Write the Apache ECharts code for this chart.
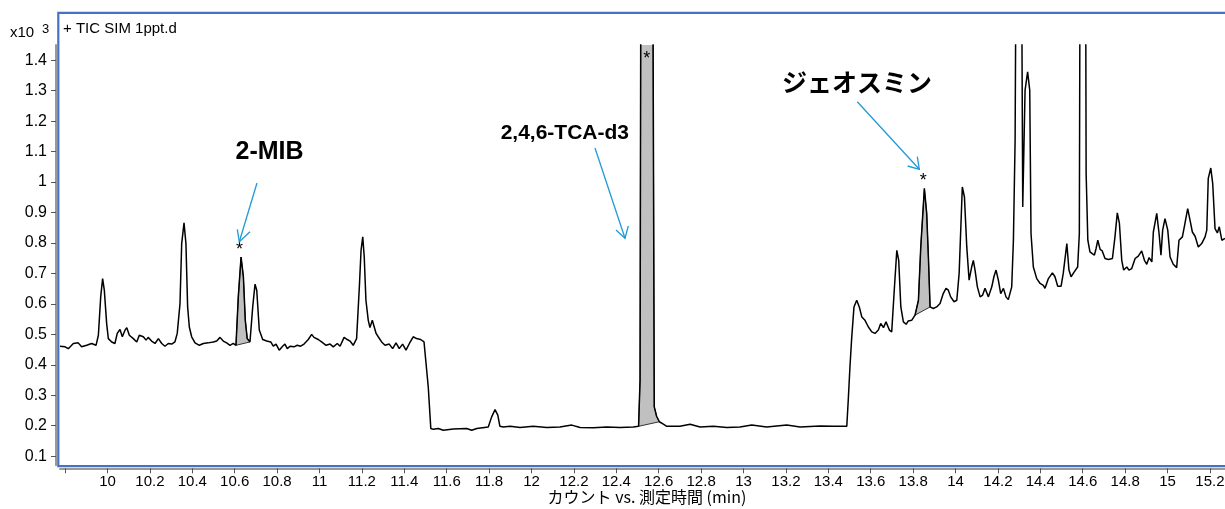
<!DOCTYPE html>
<html>
<head>
<meta charset="utf-8">
<title>TIC SIM 1ppt.d</title>
<script src="https://cdn.jsdelivr.net/npm/echarts@6/dist/echarts.min.js"></script>
<style>
    html, body { margin: 0; padding: 0; background: #fff; }
    #chart { width: 1225px; height: 509px; }
</style>
</head>
<body>
<div id="chart"></div>
<script>
// 測定時間 (min)
const retentionTime = [
    9.776, 9.800, 9.815, 9.839, 9.862, 9.878, 9.902, 9.925, 9.946, 9.957,
    9.968, 9.977, 9.985, 9.996, 10.004, 10.020, 10.035, 10.046, 10.059, 10.070,
    10.083, 10.091, 10.103, 10.122, 10.138, 10.150, 10.169, 10.182, 10.192, 10.208,
    10.224, 10.240, 10.256, 10.271, 10.287, 10.303, 10.318, 10.329, 10.342, 10.350,
    10.361, 10.370, 10.378, 10.386, 10.397, 10.413, 10.433, 10.452, 10.475, 10.499,
    10.515, 10.531, 10.546, 10.562, 10.578, 10.593, 10.606, 10.617, 10.630, 10.641,
    10.650, 10.659, 10.672, 10.685, 10.696, 10.704, 10.716, 10.732, 10.751, 10.770,
    10.782, 10.795, 10.810, 10.826, 10.837, 10.848, 10.861, 10.880, 10.895, 10.911,
    10.927, 10.947, 10.963, 10.974, 10.994, 11.010, 11.031, 11.050, 11.065, 11.084,
    11.097, 11.116, 11.131, 11.144, 11.159, 11.175, 11.188, 11.196, 11.204, 11.211,
    11.219, 11.230, 11.238, 11.249, 11.258, 11.267, 11.277, 11.293, 11.309, 11.329,
    11.345, 11.361, 11.376, 11.392, 11.408, 11.424, 11.442, 11.458, 11.477, 11.493,
    11.501, 11.513, 11.525, 11.537, 11.560, 11.584, 11.631, 11.694, 11.718, 11.742,
    11.796, 11.812, 11.828, 11.841, 11.851, 11.867, 11.899, 11.946, 12.008, 12.072,
    12.134, 12.190, 12.229, 12.292, 12.355, 12.417, 12.480, 12.505, 12.512, 12.517,
    12.545, 12.571, 12.579, 12.590, 12.603, 12.622, 12.638, 12.700, 12.748, 12.795,
    12.858, 12.921, 12.983, 13.039, 13.109, 13.204, 13.267, 13.361, 13.424, 13.487,
    13.494, 13.502, 13.510, 13.521, 13.534, 13.546, 13.558, 13.573, 13.589, 13.605,
    13.620, 13.636, 13.647, 13.660, 13.672, 13.688, 13.699, 13.710, 13.723, 13.732,
    13.742, 13.754, 13.767, 13.777, 13.793, 13.809, 13.825, 13.836, 13.853, 13.864,
    13.872, 13.880, 13.895, 13.911, 13.927, 13.942, 13.955, 13.966, 13.977, 13.993,
    14.006, 14.017, 14.032, 14.042, 14.053, 14.064, 14.076, 14.084, 14.092, 14.103,
    14.116, 14.128, 14.139, 14.155, 14.171, 14.181, 14.191, 14.202, 14.213, 14.226,
    14.238, 14.249, 14.265, 14.273, 14.281, 14.290, 14.300, 14.307, 14.317, 14.328,
    14.340, 14.350, 14.356, 14.367, 14.383, 14.399, 14.414, 14.422, 14.438, 14.457,
    14.469, 14.482, 14.498, 14.508, 14.525, 14.535, 14.545, 14.560, 14.576, 14.584,
    14.590, 14.601, 14.611, 14.616, 14.624, 14.634, 14.645, 14.655, 14.663, 14.671,
    14.682, 14.692, 14.705, 14.721, 14.740, 14.752, 14.763, 14.773, 14.784, 14.793,
    14.808, 14.818, 14.831, 14.847, 14.862, 14.878, 14.891, 14.902, 14.913, 14.926,
    14.933, 14.949, 14.960, 14.969, 14.977, 14.988, 15.001, 15.012, 15.027, 15.043,
    15.054, 15.070, 15.079, 15.095, 15.106, 15.117, 15.130, 15.145, 15.161, 15.177,
    15.185, 15.192, 15.204, 15.213, 15.224, 15.235, 15.244, 15.256, 15.271
];

// カウント (x10^3)
const counts = [
    0.461, 0.459, 0.453, 0.470, 0.472, 0.459, 0.464, 0.470, 0.464, 0.497,
    0.623, 0.683, 0.645, 0.536, 0.486, 0.475, 0.470, 0.503, 0.516, 0.492,
    0.514, 0.522, 0.497, 0.486, 0.475, 0.497, 0.492, 0.481, 0.490, 0.478,
    0.470, 0.486, 0.470, 0.461, 0.470, 0.468, 0.475, 0.503, 0.601, 0.798,
    0.866, 0.798, 0.590, 0.524, 0.492, 0.472, 0.464, 0.470, 0.472, 0.475,
    0.478, 0.490, 0.478, 0.472, 0.464, 0.470, 0.464, 0.623, 0.754, 0.689,
    0.546, 0.486, 0.475, 0.590, 0.665, 0.645, 0.514, 0.483, 0.478, 0.475,
    0.461, 0.468, 0.448, 0.461, 0.468, 0.453, 0.461, 0.459, 0.464, 0.461,
    0.468, 0.483, 0.500, 0.490, 0.483, 0.475, 0.464, 0.468, 0.459, 0.470,
    0.461, 0.490, 0.483, 0.478, 0.464, 0.486, 0.656, 0.776, 0.820, 0.754,
    0.612, 0.546, 0.522, 0.546, 0.544, 0.503, 0.492, 0.475, 0.464, 0.468,
    0.453, 0.472, 0.453, 0.468, 0.448, 0.470, 0.492, 0.486, 0.483, 0.475,
    0.470, 0.327, 0.191, 0.188, 0.191, 0.185, 0.189, 0.191, 0.185, 0.191,
    0.196, 0.229, 0.253, 0.235, 0.198, 0.196, 0.198, 0.194, 0.198, 0.194,
    0.196, 0.202, 0.194, 0.193, 0.196, 0.194, 0.196, 0.198, 0.349, 2.2,
    3.5, 2.0, 0.262, 0.231, 0.213, 0.205, 0.198, 0.198, 0.205, 0.196,
    0.198, 0.194, 0.196, 0.202, 0.196, 0.202, 0.196, 0.199, 0.198, 0.198,
    0.284, 0.393, 0.486, 0.590, 0.612, 0.590, 0.557, 0.546, 0.524, 0.508,
    0.503, 0.514, 0.536, 0.522, 0.541, 0.514, 0.508, 0.634, 0.776, 0.743,
    0.590, 0.541, 0.533, 0.544, 0.546, 0.563, 0.612, 0.787, 0.979, 0.897,
    0.754, 0.590, 0.585, 0.590, 0.601, 0.634, 0.651, 0.645, 0.623, 0.607,
    0.612, 0.700, 0.984, 0.951, 0.787, 0.678, 0.721, 0.743, 0.711, 0.656,
    0.623, 0.629, 0.651, 0.623, 0.656, 0.689, 0.711, 0.678, 0.634, 0.651,
    0.623, 0.614, 0.656, 0.809, 1.137, 2.4, 2.8, 2.4, 0.918, 1.302,
    1.362, 1.302, 0.831, 0.721, 0.683, 0.667, 0.661, 0.651, 0.683, 0.702,
    0.689, 0.658, 0.658, 0.700, 0.798, 0.711, 0.689, 0.705, 0.721, 0.831,
    2.5, 3.0, 2.5, 1.028, 0.809, 0.771, 0.765, 0.760, 0.782, 0.809,
    0.779, 0.774, 0.749, 0.746, 0.749, 0.820, 0.899, 0.864, 0.743, 0.711,
    0.721, 0.711, 0.716, 0.749, 0.757, 0.774, 0.743, 0.730, 0.752, 0.738,
    0.836, 0.897, 0.831, 0.760, 0.842, 0.880, 0.842, 0.754, 0.730, 0.719,
    0.809, 0.820, 0.853, 0.913, 0.875, 0.836, 0.822, 0.787, 0.798, 0.820,
    0.842, 1.012, 1.046, 0.995, 0.847, 0.833, 0.853, 0.809, 0.815
];

// 積分されたピークの範囲 (2-MIB, 2,4,6-TCA-d3, ジェオスミン)
const peakStart = [10.606, 12.505, 13.809];
const peakEnd = [10.672, 12.603, 13.880];

// 目盛り
const xTicks = [9.8, 10, 10.2, 10.4, 10.6, 10.8, 11, 11.2, 11.4, 11.6, 11.8, 12, 12.2, 12.4,
    12.6, 12.8, 13, 13.2, 13.4, 13.6, 13.8, 14, 14.2, 14.4, 14.6, 14.8, 15, 15.2];
const xLabels = xTicks.slice(1);
const yTicks = [0.1, 0.2, 0.3, 0.4, 0.5, 0.6, 0.7, 0.8, 0.9, 1, 1.1, 1.2, 1.3, 1.4];

const chart = echarts.init(document.getElementById('chart'));

// ピーク面積 (灰色) を描く
function renderPeakArea(params, api) {
    const start = api.value(0);
    const end = api.value(2);
    const points = [];
    retentionTime.forEach((t, i) => {
        if (t >= start - 1e-9 && t <= end + 1e-9) {
            points.push(api.coord([t, counts[i]]));
        }
    });
    return {
        type: 'polygon',
        shape: { points: points },
        style: { fill: '#c0c0c0', stroke: '#333', lineWidth: 1 }
    };
}

const arrowColor = '#1f9ad6';
const latin = '"Liberation Sans", Arial, sans-serif';
const cjk = '"Noto Sans CJK JP", sans-serif';

function arrow(from, tip, armA, armB) {
    return [
        { type: 'polyline', silent: true, z: 20, shape: { points: [from, tip] },
          style: { stroke: arrowColor, lineWidth: 1.3, fill: null } },
        { type: 'polyline', silent: true, z: 20, shape: { points: [armA, tip, armB] },
          style: { stroke: arrowColor, lineWidth: 1.3, fill: null } }
    ];
}

function label(text, x, y, font, align) {
    return {
        type: 'text', silent: true, z: 20, x: x, y: y,
        style: { text: text, font: font, fill: '#000', textAlign: align || 'left', textVerticalAlign: 'middle' }
    };
}

const option = {
    animation: false,
    grid: { left: 60, top: 45, width: 1165, height: 420.3, outerBoundsMode: 'none', containLabel: false },
    xAxis: {
        type: 'value',
        min: 9.776,
        max: 15.271,
        offset: 3,
        axisLine: { show: true, onZero: false, lineStyle: { color: '#999', width: 2 } },
        axisTick: { show: true, customValues: xTicks, length: 5, lineStyle: { color: '#555', width: 1 } },
        axisLabel: {
            customValues: xLabels,
            margin: 6,
            color: '#000',
            fontFamily: 'Liberation Sans',
            fontSize: 15,
            hideOverlap: false,
            formatter: v => String(+v.toFixed(1))
        },
        splitLine: { show: false }
    },
    yAxis: {
        type: 'value',
        min: 0.07,
        max: 1.45,
        offset: 4,
        axisLine: { show: true, onZero: false, lineStyle: { color: '#999', width: 2 } },
        axisTick: { show: true, customValues: yTicks, length: 5, lineStyle: { color: '#555', width: 1 } },
        axisLabel: {
            customValues: yTicks,
            margin: 9,
            color: '#000',
            fontFamily: 'Liberation Sans',
            fontSize: 16,
            formatter: v => String(+v.toFixed(1))
        },
        splitLine: { show: false }
    },
    series: [
        {
            name: 'ピーク面積',
            type: 'custom',
            renderItem: renderPeakArea,
            data: peakStart.map((s, i) => [s, 0.2, peakEnd[i]]),
            encode: { x: 0, y: 1 },
            clip: true,
            silent: true,
            z: 1
        },
        {
            name: 'TIC SIM 1ppt.d',
            type: 'line',
            data: retentionTime.map((t, i) => [t, counts[i]]),
            symbol: 'none',
            clip: true,
            lineStyle: { color: '#000', width: 1.5 },
            z: 2
        }
    ],
    graphic: [
        // 青い枠
        { type: 'rect', silent: true, z: 15,
          shape: { x: 58.3, y: 12.8, width: 1170, height: 453.4 },
          style: { fill: null, stroke: '#4472c4', lineWidth: 2.2 } },
        label('+ TIC SIM 1ppt.d', 63, 29, '15px ' + latin),
        label('x10', 10, 32.5, '15px ' + latin),
        label('3', 42, 29.5, '13px ' + latin),
        // 軸タイトル
        label('カウント vs. 測定時間 (min)', 647, 497, '16px ' + cjk, 'center'),
        // ピーク名
        label('2-MIB', 269.5, 152.5, 'bold 25px ' + latin, 'center'),
        label('2,4,6-TCA-d3', 629, 133.5, 'bold 21px ' + latin, 'right'),
        label('ジェオスミン', 932, 82, 'bold 25px ' + cjk, 'right'),
        // アスタリスク
        label('*', 239.5, 250, '18px ' + latin, 'center'),
        label('*', 646.7, 59, '18px ' + latin, 'center'),
        label('*', 923.3, 181.5, '18px ' + latin, 'center'),
        // 矢印
        ...arrow([257, 183], [239.3, 241.7], [237.3, 229.3], [250, 231.7]),
        ...arrow([595, 148], [625, 238.3], [616, 230], [628.3, 226]),
        ...arrow([857.3, 101.7], [919.3, 169.3], [907.7, 166], [917.3, 156.7])
    ]
};

chart.setOption(option);

window.addEventListener('resize', function() {
    chart.resize();
});
</script>
</body>
</html>
